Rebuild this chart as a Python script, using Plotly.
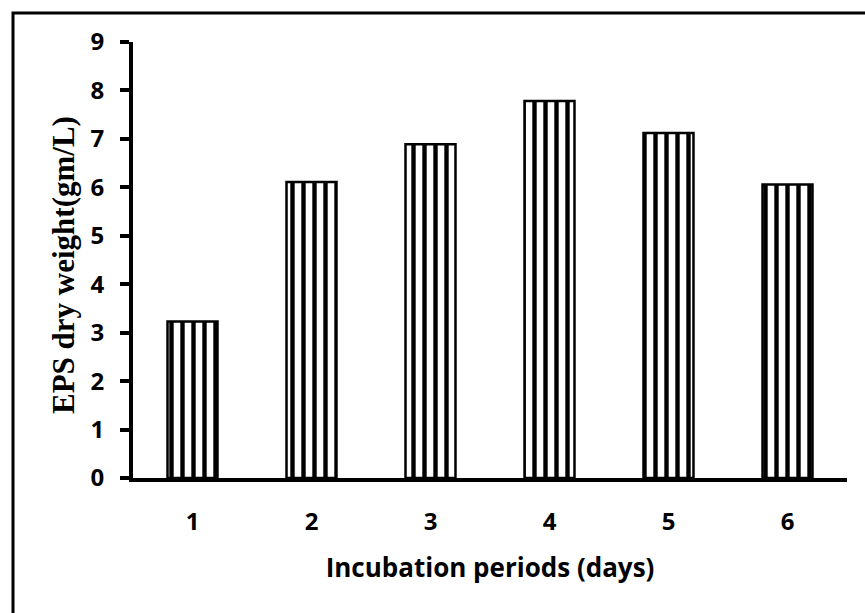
import plotly.graph_objects as go

categories = ["1", "2", "3", "4", "5", "6"]
eps_weight = [3.23, 6.11, 6.89, 7.78, 7.12, 6.06]
y_ticks = [0, 1, 2, 3, 4, 5, 6, 7, 8, 9]
y_title = "<b>EPS dry weight(gm/L)</b>"
x_title = "<b>Incubation periods (days)</b>"

W, H = 865, 613
L, R, T, B = 133, 18, 42, 135

fig = go.Figure(
    go.Bar(
        x=categories,
        y=eps_weight,
        width=0.42,
        marker=dict(
            color="white",
            line=dict(color="black", width=2.5),
            pattern=dict(shape="|", fgcolor="black", bgcolor="white",
                         size=11, solidity=0.4, fillmode="replace"),
        ),
    )
)

pw = W - L - R
ph = H - T - B
fig.add_shape(type="rect", xref="paper", yref="paper",
              x0=(13 - L) / pw, x1=(W + 20 - L) / pw,
              y0=-(H + 20 - T - ph) / ph, y1=1 + (T - 13) / ph,
              line=dict(color="black", width=3), fillcolor="rgba(0,0,0,0)")

fig.add_annotation(text=y_title, textangle=-90, showarrow=False,
                   xref="paper", yref="paper",
                   x=(63 - L) / pw, y=1 - (265 - T) / ph,
                   xanchor="center", yanchor="middle",
                   font=dict(family="Liberation Serif", size=31, color="black"))

fig.update_layout(
    width=W, height=H,
    margin=dict(l=L, r=R, t=T, b=B, pad=0),
    paper_bgcolor="white", plot_bgcolor="white",
    showlegend=False,
    font=dict(family="Open Sans", color="black"),
)
fig.update_xaxes(
    type="category", range=[-0.5, 5.5],
    showline=True, linecolor="black", linewidth=4,
    ticks="", showgrid=False, zeroline=False,
    tickfont=dict(family="Open Sans", size=24, color="black", weight="bold"),
    ticklabelstandoff=19,
    title=dict(text=x_title,
               font=dict(family="Open Sans", size=26, color="black"), standoff=24),
)
fig.update_yaxes(
    range=[0, 9], tickvals=y_ticks,
    showline=True, linecolor="black", linewidth=4,
    ticks="outside", ticklen=9, tickwidth=4, tickcolor="black",
    showgrid=False, zeroline=False,
    tickfont=dict(family="Open Sans", size=24, color="black", weight="bold"),
    ticklabelstandoff=11,
)

fig.write_html("out.html", config={"displayModeBar": False},
               post_script="document.body.style.margin='0';")
